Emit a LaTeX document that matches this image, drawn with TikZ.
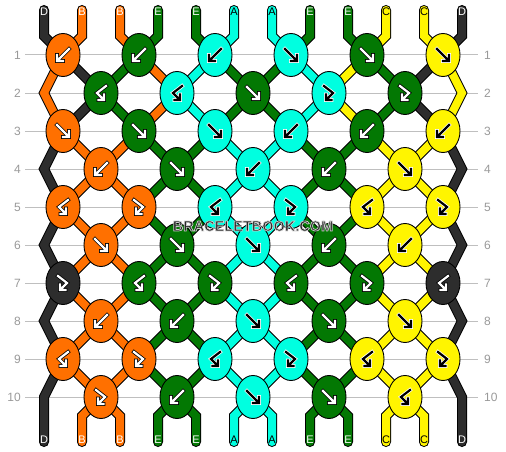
\documentclass[tikz,border=0pt]{standalone}
\usepackage{fontspec}
\setmainfont{Liberation Sans}
\usetikzlibrary{shapes,positioning}

% thread colours
\definecolor{strD}{HTML}{2D2D2D}
\definecolor{strB}{HTML}{FF7000}
\definecolor{strE}{HTML}{037803}
\definecolor{strA}{HTML}{00FFE0}
\definecolor{strC}{HTML}{FFF500}
\colorlet{arrD}{white}\colorlet{arrB}{white}\colorlet{arrE}{white}
\colorlet{arrA}{black}\colorlet{arrC}{black}
\colorlet{rimD}{black}\colorlet{rimB}{black}\colorlet{rimE}{black}
\colorlet{rimA}{white}\colorlet{rimC}{white}
\definecolor{markgray}{HTML}{262626}

% light rim round the watermark letters
\newcommand\markrim[1]{\special{pdf:literal direct 0.8 0.8 0.8 RG 0.7 w 2 Tr}#1\special{pdf:literal direct 0 Tr}}

\tikzset{
  thread/.style={draw=black, line width=1pt, double=#1, double distance=8pt, line cap=round, line join=miter},
  knot/.style={ellipse, draw=black, line width=0.9pt, fill=str#1, minimum width=34pt, minimum height=43pt, inner sep=0pt},
  arrowpen/.style={draw=rim#1, line width=0.8pt, double=arr#1, double distance=2.2pt, line cap=rect, line join=miter},
  pics/arrf/.style={code={\draw[arrowpen=#1] (-6,-6) -- (5,5) (6,0) -- (6,6) -- (0,6);}},
  pics/arrb/.style={code={\draw[arrowpen=#1] (6,-6) -- (-5,5) (-6,0) -- (-6,6) -- (0,6);}},
  pics/arrbf/.style={code={\draw[arrowpen=#1] (5,-7) -- (-4,0) -- (2,6) (3,1.5) -- (3,7) -- (-2.5,7);}},
  pics/arrfb/.style={code={\draw[arrowpen=#1] (-5,-7) -- (4,0) -- (-2,6) (-3,1.5) -- (-3,7) -- (2.5,7);}},
  rownum/.style={text=black!40, font=\fontsize{12}{12}\selectfont, inner sep=0pt},
  rowline/.style={draw=black!25, line width=1pt},
  strlabel/.style={text=arr#1, font=\fontsize{11}{11}\selectfont, inner sep=0pt},
  wmark/.style={text=markgray, font=\bfseries\fontsize{14.5}{14.5}\selectfont, inner sep=0pt}
}

\begin{document}
\begin{tikzpicture}[x=1pt,y=-1pt]
\useasboundingbox (0,0) rectangle (506,452);
% row guides
\foreach \r in {1,...,10}{
  \node[rownum,anchor=east] (ln\r) at (21,17+38*\r) {\r};
  \node[rownum,anchor=west] (rn\r) at (484,17+38*\r) {\r};
  \draw[rowline] ([xshift=4pt]ln\r.east) -- ([xshift=-6pt]rn\r.west);
}
% knot centres
\foreach \r in {1,...,10}{
  \pgfmathtruncatemacro\n{mod(\r,2)==1 ? 6 : 5}
  \foreach \j in {1,...,\n}{
    \pgfmathsetmacro\x{mod(\r,2)==1 ? 76*\j-13 : 76*\j+25}
    \coordinate (k\r-\j) at (\x,17+38*\r);
  }
}
% strings in and out
\foreach \c [count=\p] in {D,B,B,E,E,A,A,E,E,C,C,D}{
  \pgfmathsetmacro\x{6+38*\p}
  \pgfmathtruncatemacro\hi{ceil(\p/2)}
  \pgfmathtruncatemacro\lo{floor(\p/2)}
  \coordinate (te\p) at (\x,10);
  \coordinate (tb\p) at (\x,36);
  \coordinate (bb\p) at (\x,416);
  \coordinate (be\p) at (\x,442);
  \draw[thread=str\c] (te\p) -- (tb\p) -- (k1-\hi);
  \ifnum\lo>0 \ifnum\lo<6
    \draw[thread=str\c] (k10-\lo) -- (bb\p) -- (be\p);
  \fi\fi
}
% side strings
\foreach \r/\cl/\cr in {2/B/C,4/D/D,6/D/D,8/D/D}{
  \pgfmathtruncatemacro\prv{\r-1}
  \pgfmathtruncatemacro\nxt{\r+1}
  \coordinate (eL\r) at (44,17+38*\r);
  \coordinate (eR\r) at (462,17+38*\r);
  \draw[thread=str\cl] (k\prv-1) -- (eL\r) -- (k\nxt-1);
  \draw[thread=str\cr] (k\prv-6) -- (eR\r) -- (k\nxt-6);
}
\coordinate (eL10) at (44,397);
\coordinate (eR10) at (462,397);
\draw[thread=strD] (k9-1) -- (eL10) -- (be1);
\draw[thread=strD] (k9-6) -- (eR10) -- (be12);
% strings between rows
\foreach \r in {1,...,9}{
  \ifnum\r<3 \def\cols{B,D,E,B,A,E,E,A,C,E,D,C}\else\def\cols{D,B,B,E,E,A,A,E,E,C,C,D}\fi
  \pgfmathtruncatemacro\nr{\r+1}
  \foreach \c [count=\p] in \cols{
    \pgfmathtruncatemacro\hi{ceil(\p/2)}
    \pgfmathtruncatemacro\lo{floor(\p/2)}
    \ifnum\p>1 \ifnum\p<12
      \ifodd\r\relax \draw[thread=str\c] (k\r-\hi) -- (k\nr-\lo);
      \else \draw[thread=str\c] (k\r-\lo) -- (k\nr-\hi); \fi
    \fi\fi
  }
}
% string names
\foreach \c [count=\p] in {D,B,B,E,E,A,A,E,E,C,C,D}{
  \node[strlabel=\c] (tl\p) at (6+38*\p,12) {\c};
  \node[strlabel=\c] (bl\p) at (6+38*\p,440) {\c};
}
% knots
\foreach \r/\row in {1/{B/b,E/b,A/b,A/f,E/f,C/f},
  2/{E/bf,A/bf,E/f,A/fb,E/fb},
  3/{B/f,E/f,A/f,A/b,E/b,C/b},
  4/{B/b,E/f,A/b,E/b,C/f},
  5/{B/bf,B/fb,A/bf,A/fb,C/bf,C/fb},
  6/{B/f,E/f,A/f,E/b,C/b},
  7/{D/fb,E/bf,E/fb,E/bf,E/fb,D/bf},
  8/{B/b,E/b,A/f,E/f,C/f},
  9/{B/bf,B/fb,A/bf,A/fb,C/bf,C/fb},
  10/{B/fb,E/b,A/f,E/f,C/bf}}{
  \foreach \c/\t [count=\j] in \row{
    \node[knot=\c] (n\r-\j) at (k\r-\j) {};
    \edef\tmp{\noexpand\pic at (n\r-\j) {arr\t=\c};}\tmp
  }
}
% watermark
\node[wmark] (wm) at (253,226) {\markrim{BRACELETBOOK.COM}};
\end{tikzpicture}
\end{document}
